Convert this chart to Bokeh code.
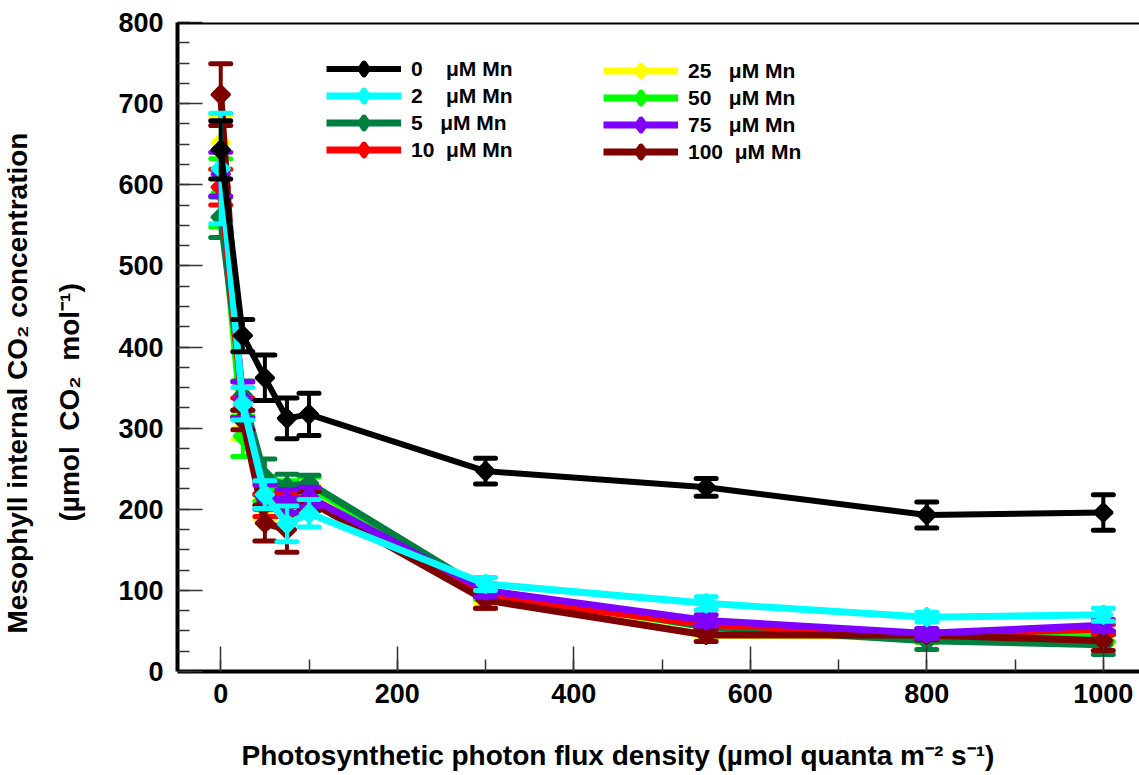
import math
from bokeh.plotting import figure
from bokeh.models import (Range1d, SingleIntervalTicker, Legend, LegendItem,
                          Title, Span, ColumnDataSource)
from bokeh.embed import file_html
from bokeh.resources import INLINE

# ---------------- data ----------------
ppfd = [0, 25, 50, 75, 100, 300, 550, 800, 1000]

mn0_mean = [643, 414, 362, 312, 317, 247, 227, 193, 196]
mn0_err = [36, 20, 28, 25, 26, 16, 11, 16, 22]

mn2_mean = [620, 330, 218, 182, 195, 108, 84, 67, 70]
mn2_err = [68, 20, 17, 22, 17, 8, 8, 6, 8]

mn5_mean = [560, 340, 240, 228, 232, 100, 55, 38, 33]
mn5_err = [25, 18, 22, 15, 10, 8, 7, 11, 12]

mn10_mean = [597, 325, 205, 205, 212, 92, 58, 46, 52]
mn10_err = [22, 12, 14, 14, 12, 14, 6, 6, 6]

mn25_mean = [652, 300, 200, 210, 218, 92, 45, 42, 40]
mn25_err = [33, 14, 12, 12, 12, 8, 6, 6, 6]

mn50_mean = [590, 290, 225, 220, 228, 97, 55, 42, 43]
mn50_err = [42, 25, 15, 15, 12, 8, 6, 6, 6]

mn75_mean = [613, 335, 215, 210, 215, 100, 63, 47, 57]
mn75_err = [27, 22, 15, 14, 12, 8, 7, 6, 7]

mn100_mean = [711, 310, 183, 175, 210, 88, 45, 45, 38]
mn100_err = [38, 12, 22, 28, 12, 10, 8, 6, 12]

labels_col1 = ["0\u00a0\u00a0\u00a0\u00a0\u03bcM Mn", "2\u00a0\u00a0\u00a0\u00a0\u03bcM Mn",
               "5\u00a0\u00a0\u00a0\u03bcM Mn", "10\u00a0\u00a0\u03bcM Mn"]
labels_col2 = ["25\u00a0\u00a0\u00a0\u03bcM Mn", "50\u00a0\u00a0\u00a0\u03bcM Mn",
               "75\u00a0\u00a0\u00a0\u03bcM Mn", "100\u00a0\u00a0\u03bcM Mn"]

x_title = "Photosynthetic photon flux density (\u00b5mol quanta m\u207b\u00b2 s\u207b\u00b9)"
y_title_1 = "Mesophyll internal CO\u2082 concentration"
y_title_2 = "(\u00b5mol\u00a0\u00a0CO\u2082\u00a0\u00a0mol\u207b\u00b9)"

colors = {
    "0": "#000000", "2": "#00FFFF", "5": "#007F3F", "10": "#FF0000",
    "25": "#FFFF00", "50": "#00FF00", "75": "#7F00FF", "100": "#7F0000",
}

x_ticks_interval = 200
y_ticks_interval = 100

FONT = "Liberation Sans"
NBSP = "\u00a0"

# ---------------- figure ----------------
p = figure(width=1139, height=775, output_backend="svg", toolbar_location=None,
           x_range=Range1d(-49, 1041), y_range=Range1d(0, 800),
           min_border_left=176, min_border_right=0, min_border_top=22,
           min_border_bottom=104)
p.grid.visible = False
p.outline_line_color = None
p.background_fill_color = "white"

xa = p.xaxis[0]
xa.ticker = SingleIntervalTicker(interval=x_ticks_interval, num_minor_ticks=2)
ya = p.yaxis[0]
ya.ticker = SingleIntervalTicker(interval=y_ticks_interval, num_minor_ticks=4)
for ax in (xa, ya):
    ax.major_tick_in = 25
    ax.major_tick_out = 0
    ax.minor_tick_in = 12
    ax.minor_tick_out = 0
    ax.axis_line_width = 4
    ax.axis_line_color = "black"
    ax.major_tick_line_width = 1.5
    ax.minor_tick_line_width = 1.5
    ax.major_tick_line_color = "#333333"
    ax.minor_tick_line_color = "#333333"
    ax.major_label_text_font = FONT
    ax.major_label_text_font_style = "bold"
    ax.major_label_text_font_size = "27px"
    ax.major_label_text_color = "black"
    # blank spacer label to push the titles outward
    ax.axis_label = NBSP
    ax.axis_label_standoff = 0
    ax.axis_label_text_font_size = "24px"
xa.axis_label_text_font_size = "27px"
xa.major_label_standoff = 12
ya.major_label_standoff = 14

p.add_layout(Span(location=800, dimension="width", line_color="black", line_width=4))

# ---------------- series ----------------
order = [
    ("25", mn25_mean, mn25_err),
    ("50", mn50_mean, mn50_err),
    ("5", mn5_mean, mn5_err),
    ("10", mn10_mean, mn10_err),
    ("100", mn100_mean, mn100_err),
    ("75", mn75_mean, mn75_err),
    ("2", mn2_mean, mn2_err),
    ("0", mn0_mean, mn0_err),
]
rend = {}
for key, mean, err in order:
    c = colors[key]
    src = ColumnDataSource(dict(
        x=ppfd, y=mean,
        lo=[m - e for m, e in zip(mean, err)],
        hi=[m + e for m, e in zip(mean, err)],
    ))
    lw = 6 if key == "0" else 7
    lr = p.line("x", "y", source=src, line_color=c, line_width=lw, line_join="round")
    p.segment(x0="x", y0="lo", x1="x", y1="hi", source=src, line_color=c, line_width=4)
    for col in ("lo", "hi"):
        p.scatter("x", col, source=src, marker="dash", size=20, line_color=c,
                  line_width=5, line_cap="round")
    # diamond used as the legend symbol (hidden under the data symbol below)
    kr = p.scatter("x", "y", source=src, marker="diamond", size=12,
                   fill_color=c, line_color=c, line_width=6, line_join="round")
    p.scatter("x", "y", source=src, marker="square", angle=math.pi / 4, size=13,
              fill_color=c, line_color=c, line_width=2.5)
    rend[key] = (lr, kr)


def make_legend(keys, labels, loc):
    items = [LegendItem(label=lab, renderers=list(rend[k])) for k, lab in zip(keys, labels)]
    return Legend(items=items, location=loc, orientation="vertical",
                  glyph_width=75, glyph_height=27, label_height=27, spacing=0,
                  padding=0, margin=0, label_standoff=10,
                  border_line_color=None, background_fill_alpha=0,
                  label_text_font=FONT, label_text_font_style="bold",
                  label_text_font_size="21px", label_text_color="black")


p.add_layout(make_legend(["0", "2", "5", "10"], labels_col1, (149, 508)))
p.add_layout(make_legend(["25", "50", "75", "100"], labels_col2, (426, 506)))

# ---------------- axis titles ----------------
tstyle = dict(text_font=FONT, text_font_style="bold", text_font_size="28px",
              text_color="black", standoff=0, vertical_align="middle", align="left")
p.add_layout(Title(text=x_title, offset=64, **tstyle), "below")
p.add_layout(Title(text=y_title_2, offset=150, **tstyle), "left")
p.add_layout(Title(text=NBSP, text_font_size="16px", standoff=0), "left")
p.add_layout(Title(text=y_title_1, offset=38, **tstyle), "left")

open("out.html", "w").write(file_html(p, INLINE))
